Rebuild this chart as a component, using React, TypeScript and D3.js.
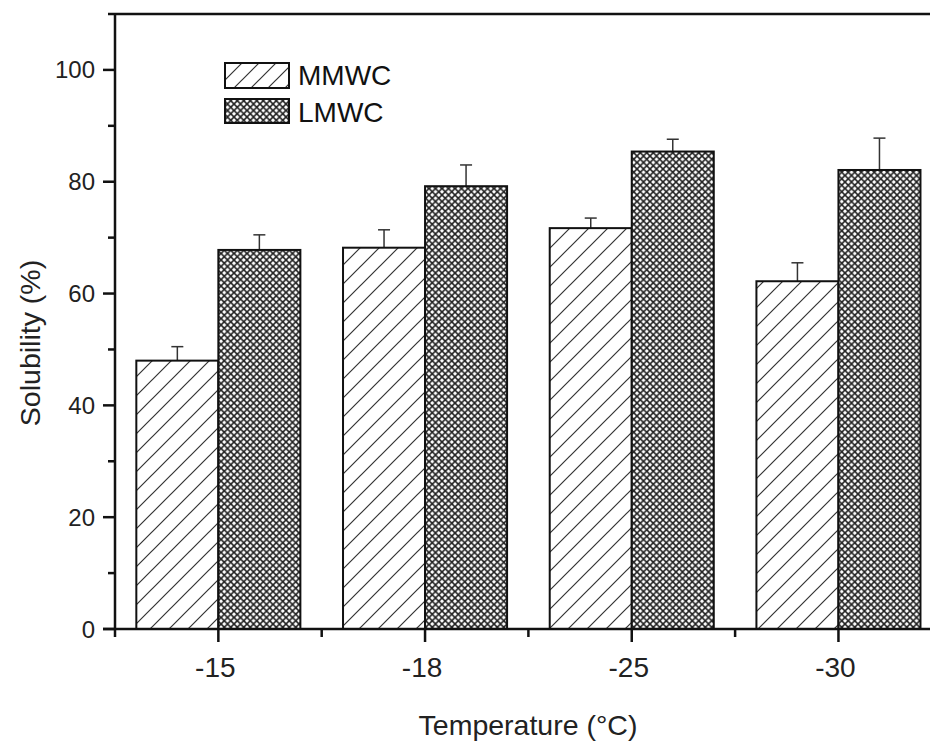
import React from 'react';
import * as d3 from 'd3';

const categories = ['-15', '-18', '-25', '-30'];
const seriesNames = ['MMWC', 'LMWC'];
const mmwcValues = [48.0, 68.2, 71.7, 62.2];
const mmwcErrors = [2.5, 3.2, 1.8, 3.3];
const lmwcValues = [67.8, 79.2, 85.4, 82.1];
const lmwcErrors = [2.7, 3.8, 2.2, 5.7];
const yTicks = [0, 20, 40, 60, 80, 100];
const yMinorTicks = [10, 30, 50, 70, 90];
const xTitle = 'Temperature (°C)';
const yTitle = 'Solubility (%)';

const W = 930;
const H = 744;
const FONT = '"Liberation Sans", Arial, Helvetica, sans-serif';

export default function App() {
  const y = d3.scaleLinear().domain([0, 110]).range([629, 14]);
  const x = d3.scaleBand<string>().domain(categories).range([115, 941.8]).padding(0);
  const xs = d3
    .scaleBand<string>()
    .domain(seriesNames)
    .range([0, x.bandwidth()])
    .paddingInner(0)
    .paddingOuter(0.26);

  const series = [
    { name: 'MMWC', values: mmwcValues, errors: mmwcErrors, fill: 'url(#diag)' },
    { name: 'LMWC', values: lmwcValues, errors: lmwcErrors, fill: 'url(#cross)' },
  ];

  const x0 = x.range()[0];
  const yBase = y(0);
  const yTopPx = y(110);
  const boundaries = categories.map((c) => x(c)!).concat([x.range()[1]]).filter((v) => v <= W);

  return (
    <svg
      width={W}
      height={H}
      style={{ position: 'absolute', left: 0, top: 0, background: '#fff' }}
      fontFamily={FONT}
    >
      <defs>
        <pattern id="diag" patternUnits="userSpaceOnUse" width={19} height={19}>
          <rect width={19} height={19} fill="#fff" />
          <path d="M0,19 L19,0 M-5,5 L5,-5 M14,24 L24,14" stroke="#333" strokeWidth={1.2} />
        </pattern>
        <pattern id="diagLegend" patternUnits="userSpaceOnUse" width={17} height={17} x={225} y={63}>
          <rect width={17} height={17} fill="#fff" />
          <path d="M0,17 L17,0 M-5,5 L5,-5 M12,22 L22,12" stroke="#333" strokeWidth={1.2} />
        </pattern>
        <pattern id="cross" patternUnits="userSpaceOnUse" width={6.5} height={6.5}>
          <rect width={6.5} height={6.5} fill="#fff" />
          <path d="M-1,-1 L7.5,7.5 M7.5,-1 L-1,7.5" stroke="#222" strokeWidth={1.6} />
        </pattern>
      </defs>

      {/* bars */}
      {series.map((s) =>
        categories.map((c, i) => {
          const bx = x(c)! + xs(s.name)!;
          const bw = xs.bandwidth();
          const top = y(s.values[i]);
          const errTop = y(s.values[i] + s.errors[i]);
          const cx = bx + bw / 2;
          return (
            <g key={s.name + c}>
              <line x1={cx} x2={cx} y1={top} y2={errTop} stroke="#333" strokeWidth={1.5} />
              <line x1={cx - 6} x2={cx + 6} y1={errTop} y2={errTop} stroke="#333" strokeWidth={1.5} />
              <rect
                x={bx}
                y={top}
                width={bw}
                height={yBase - top}
                fill={s.fill}
                stroke="#111"
                strokeWidth={2}
              />
            </g>
          );
        })
      )}

      {/* frame top */}
      <line x1={108} x2={W} y1={yTopPx} y2={yTopPx} stroke="#111" strokeWidth={2.5} />
      {/* y axis */}
      <line x1={x0} x2={x0} y1={yTopPx} y2={yBase + 1} stroke="#111" strokeWidth={2.5} />
      {yTicks.map((t) => (
        <g key={'yt' + t}>
          <line x1={x0 - 12} x2={x0} y1={y(t)} y2={y(t)} stroke="#111" strokeWidth={2.5} />
          <text x={x0 - 20} y={y(t) + 8.5} textAnchor="end" fontSize={24} fill="#222">
            {t}
          </text>
        </g>
      ))}
      {yMinorTicks.map((t) => (
        <line key={'ym' + t} x1={x0 - 7} x2={x0} y1={y(t)} y2={y(t)} stroke="#111" strokeWidth={2.5} />
      ))}

      {/* x axis */}
      <line x1={x0 - 12} x2={W} y1={yBase} y2={yBase} stroke="#111" strokeWidth={2.5} />
      {boundaries.map((b, i) => (
        <line key={'xb' + i} x1={b} x2={b} y1={yBase} y2={yBase + 8} stroke="#111" strokeWidth={2.5} />
      ))}
      {categories.map((c) => {
        const cx = x(c)! + x.bandwidth() / 2;
        return (
          <g key={'xt' + c}>
            <line x1={cx} x2={cx} y1={yBase} y2={yBase + 13} stroke="#111" strokeWidth={2.5} />
            <text x={cx - 3} y={677} textAnchor="middle" fontSize={28} fill="#222">
              {c}
            </text>
          </g>
        );
      })}

      {/* axis titles */}
      <text x={528} y={735} textAnchor="middle" fontSize={28.5} fill="#222">
        {xTitle}
      </text>
      <text
        transform={`translate(40,343) rotate(-90)`}
        textAnchor="middle"
        fontSize={28.5}
        fill="#222"
      >
        {yTitle}
      </text>

      {/* legend */}
      <rect x={225} y={63} width={64} height={25} fill="url(#diagLegend)" stroke="#111" strokeWidth={2} />
      <text x={298} y={85} fontSize={28} fill="#111">MMWC</text>
      <rect x={225} y={99} width={64} height={24} fill="url(#cross)" stroke="#111" strokeWidth={2} />
      <text x={298} y={122} fontSize={28} fill="#111">LMWC</text>
    </svg>
  );
}
